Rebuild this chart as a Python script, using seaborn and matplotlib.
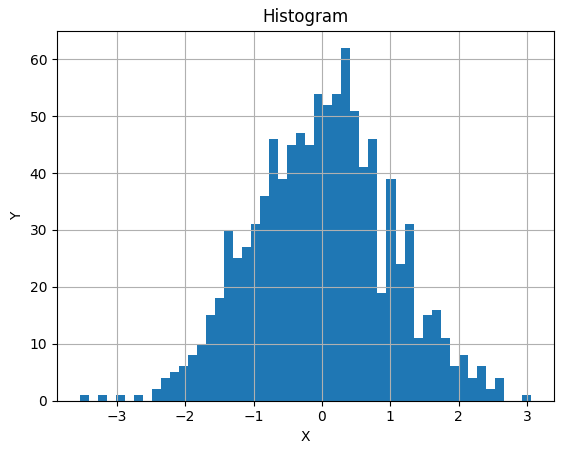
import numpy as np
import pandas as pd
import matplotlib
matplotlib.use("Agg")
import matplotlib.pyplot as plt
import seaborn as sns

# Histogram data (50 equal bins)
bin_lo = -3.543
bin_hi = 3.056
n_bins = 50
counts = [1, 0, 1, 0, 1, 0, 1, 0, 2, 4,
          5, 6, 8, 10, 15, 18, 30, 25, 27, 31,
          36, 46, 39, 45, 47, 45, 54, 52, 54, 62,
          51, 41, 46, 19, 39, 24, 31, 11, 15, 16,
          11, 6, 8, 4, 6, 2, 4, 0, 0, 1]

edges = np.linspace(bin_lo, bin_hi, n_bins + 1)
centers = (edges[:-1] + edges[1:]) / 2
df = pd.DataFrame({"x": centers, "n": counts})

fig = plt.figure(figsize=(5.63, 4.53), dpi=100)
ax = fig.add_axes([57 / 563, 1 - 400.5 / 453, 496.5 / 563, 370 / 453])
sns.histplot(data=df, x="x", weights="n", bins=n_bins, binrange=(bin_lo, bin_hi),
             ax=ax, color="#1f77b4", alpha=1, linewidth=0, edgecolor="none")
ax.grid(True)
ax.set_title("Histogram")
ax.set_xlabel("X")
ax.set_ylabel("Y")
fig.savefig("out.png", dpi=100)
